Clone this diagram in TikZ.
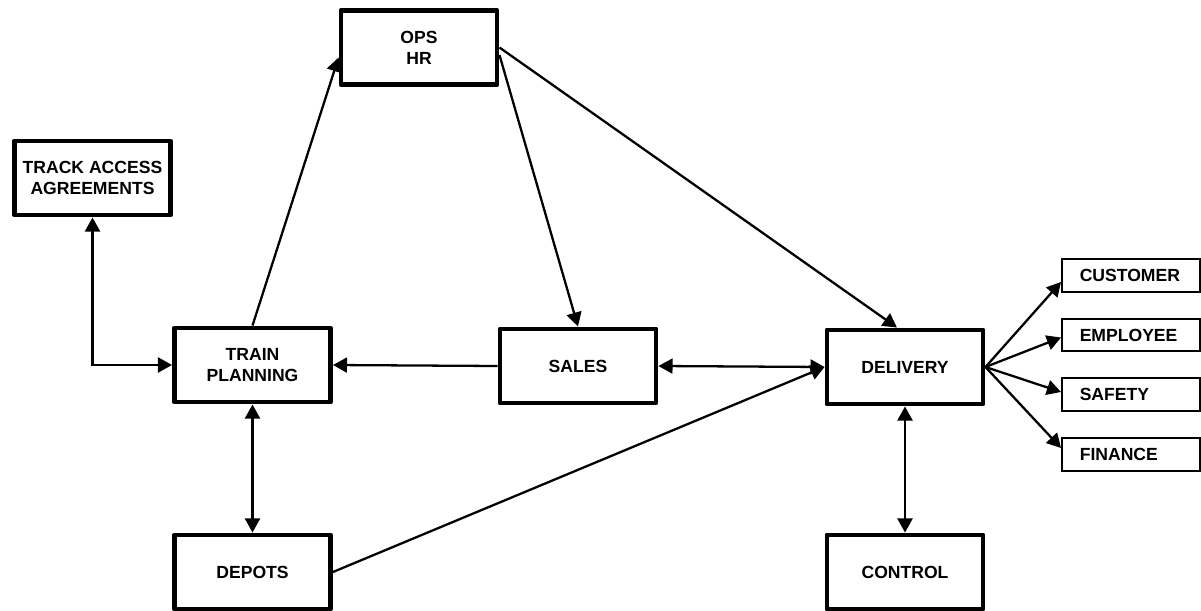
\documentclass[tikz,border=0pt]{standalone}
\usepackage{fontspec}
\setmainfont{Liberation Sans}
\usetikzlibrary{arrows.meta, positioning}

\begin{document}
\begin{tikzpicture}[>={Triangle[length=8pt, width=8.5pt]},
		unit/.style={rectangle, draw=black, fill=white, line width=2.8pt, line join=round, minimum width=3.12cm, minimum height=1.48cm, align=center, font=\bfseries\fontsize{10}{12}\selectfont},
		outcome/.style={rectangle, draw=black, fill=white, line width=1.4pt, inner xsep=0.35cm, text width=2.05cm, minimum height=0.65cm, align=left, font=\bfseries\fontsize{10}{12}\selectfont},
		link/.style={line width=1.3pt}]
		
		\useasboundingbox (0, 0) rectangle (24.02, 12.2);
		
		% Planning side
		\node[unit] (track) at (1.85, 8.64) {TRACK ACCESS\\AGREEMENTS};
		\node[unit] (ops) at (8.38, 11.25) {OPS\\HR};
		\node[unit] (train) at (5.05, 4.9) {TRAIN\\PLANNING};
		\node[unit] (depots) at (5.05, 0.76) {DEPOTS};
		
		% Delivery side
		\node[unit] (sales) at (11.56, 4.88) {SALES};
		\node[unit] (delivery) at (18.1, 4.86) {DELIVERY};
		\node[unit] (control) at (18.1, 0.76) {CONTROL};
		
		% Outcomes
		\node[outcome] (customer) at (22.62, 6.69) {CUSTOMER};
		\node[outcome] (employee) at (22.62, 5.5) {EMPLOYEE};
		\node[outcome] (safety) at (22.62, 4.31) {SAFETY};
		\node[outcome] (finance) at (22.62, 3.11) {FINANCE};
		
		% Links
		\draw[link, <->] (track.south) |- (train.west);
		\draw[link, ->] (train.north) -- ([yshift=-0.2cm]ops.west);
		\draw[link, ->] ([yshift=-0.15cm]ops.east) -- (sales.north);
		\draw[link, ->] (ops.east) -- ([xshift=-0.16cm]delivery.north);
		\draw[link, ->] (sales.west) -- (train.east);
		\draw[link, <->] (sales.east) -- (delivery.west);
		\draw[link, <->] (train.south) -- (depots.north);
		\draw[link, ->] (depots.east) -- (delivery.west);
		\draw[link, <->] (delivery.south) -- (control.north);
		
		% Delivery to outcomes
		\draw[link, ->] (delivery.east) -- ([yshift=-0.13cm]customer.west);
		\draw[link, ->] (delivery.east) -- ([yshift=-0.05cm]employee.west);
		\draw[link, ->] (delivery.east) -- ([yshift=0.05cm]safety.west);
		\draw[link, ->] (delivery.east) -- ([yshift=0.13cm]finance.west);
	\end{tikzpicture}
\end{document}
